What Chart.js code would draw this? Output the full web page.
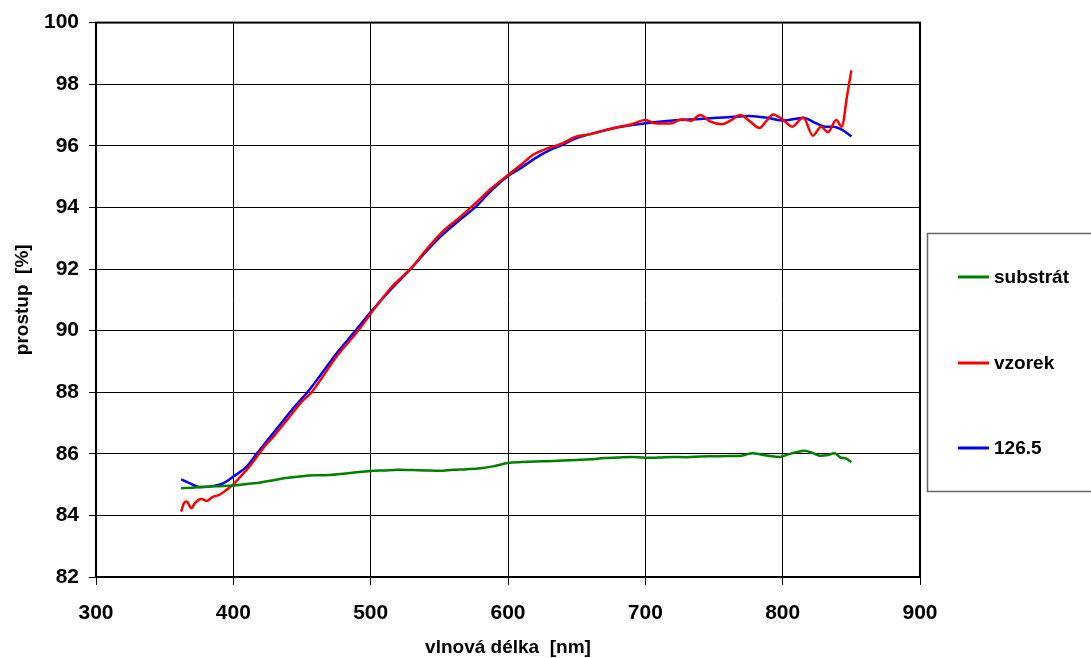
<!doctype html>
<html lang="cs">
  <head>
    <meta charset="utf-8">
    <title>Prostup</title>
    <script src="https://cdn.jsdelivr.net/npm/chart.js"></script>
    <style>
      body { margin: 0; background: #fff; }
    </style>
  </head>
  <body>
    <canvas id="prostupChart" width="1091" height="658"></canvas>

    <script>
  // substrat
  const substratNm  = [362, 370, 380, 390, 400, 410, 420, 430, 440, 450, 460, 470, 480, 490, 500, 510, 520, 530, 540, 550, 560, 570, 580, 590, 600, 610, 620, 630, 640, 650, 660, 670, 680, 690, 700, 710, 720, 730, 740, 750, 760, 770, 778, 785, 792, 798, 804, 810, 816, 822, 827, 832, 838, 842, 846, 850];
  const substratVal = [84.88, 84.9, 84.93, 84.95, 84.97, 85.02, 85.07, 85.15, 85.22, 85.27, 85.3, 85.31, 85.35, 85.4, 85.44, 85.46, 85.48, 85.47, 85.46, 85.45, 85.48, 85.5, 85.53, 85.6, 85.7, 85.73, 85.75, 85.76, 85.78, 85.8, 85.82, 85.86, 85.88, 85.9, 85.87, 85.88, 85.9, 85.89, 85.91, 85.92, 85.93, 85.94, 86.02, 85.97, 85.92, 85.9, 85.98, 86.05, 86.1, 86.02, 85.94, 85.95, 86.02, 85.88, 85.85, 85.73];

  // vzorek (measured)
  const vzorekNm  = [362, 364, 366, 369.5, 372, 377, 380.5, 385, 390, 395, 400, 406, 411, 417, 422, 430, 440, 450, 457, 465, 475, 491, 500, 515, 530, 540, 552, 565, 575, 588, 600, 610, 618, 626, 638, 650, 660, 670, 680, 690, 700, 707, 718, 727, 733, 740, 747, 756, 763, 769, 776, 783, 788, 793, 800, 807, 815, 822, 828, 833, 839, 843, 847, 850];
  const vzorekVal = [84.12, 84.4, 84.45, 84.23, 84.4, 84.53, 84.47, 84.6, 84.67, 84.83, 85.01, 85.3, 85.55, 85.9, 86.2, 86.6, 87.15, 87.7, 88.0, 88.5, 89.15, 90.0, 90.55, 91.4, 92.05, 92.6, 93.2, 93.68, 94.08, 94.62, 95.05, 95.4, 95.7, 95.87, 96.05, 96.3, 96.38, 96.5, 96.6, 96.7, 96.84, 96.73, 96.72, 96.86, 96.81, 97.0, 96.79, 96.7, 96.85, 97.0, 96.8, 96.58, 96.8, 97.02, 96.85, 96.62, 96.92, 96.33, 96.62, 96.44, 96.84, 96.62, 97.65, 98.45];

  // fit 126.5
  const fitNm  = [362, 368, 376, 385, 393, 400, 410, 417, 425, 435, 445, 454, 465, 475, 489, 500, 515, 529, 540, 552, 565, 576, 588, 600, 610, 620, 630, 638, 650, 667, 680, 700, 720, 740, 760, 776, 790, 800, 815, 825, 831, 837, 842, 846, 850];
  const fitVal = [85.17, 85.05, 84.92, 84.95, 85.05, 85.26, 85.6, 86.0, 86.45, 87.0, 87.55, 88.0, 88.65, 89.25, 90.0, 90.6, 91.35, 92.0, 92.55, 93.1, 93.6, 94.0, 94.55, 95.02, 95.3, 95.6, 95.85, 96.0, 96.25, 96.46, 96.6, 96.73, 96.82, 96.87, 96.93, 96.97, 96.9, 96.82, 96.9, 96.72, 96.62, 96.62, 96.55, 96.44, 96.3];

  const seriesNames  = ['substrát', 'vzorek', '126.5'];
  const seriesColors = ['#008000', '#ff0000', '#0000ff'];

  const FONT = 'Arial, "Liberation Sans", sans-serif';

  function toPoints(xs, ys) {
    const pts = [];
    for (let i = 0; i < xs.length; i++) {
      pts.push({x: xs[i], y: ys[i]});
    }
    return pts;
  }

  function makeDataset(i, xs, ys) {
    return {
      label: seriesNames[i],
      data: toPoints(xs, ys),
      borderColor: seriesColors[i],
      backgroundColor: seriesColors[i],
      borderWidth: 2.5,
      pointRadius: 0,
      cubicInterpolationMode: 'monotone',
      fill: false,
    };
  }

  // frame round the plot area (top + right sides aren't drawn by the axes)
  const plotFrame = {
    id: 'plotFrame',
    afterDraw(chart) {
      const {ctx, chartArea: a} = chart;
      ctx.save();
      ctx.strokeStyle = '#000';
      ctx.lineWidth = 2;
      ctx.strokeRect(a.left, a.top, a.right - a.left, a.bottom - a.top);
      ctx.restore();
    }
  };

  // legend box on the right side
  const boxLegend = {
    id: 'boxLegend',
    afterDraw(chart) {
      const ctx = chart.ctx;
      ctx.save();
      ctx.strokeStyle = '#666';
      ctx.lineWidth = 1.5;
      ctx.strokeRect(927.5, 233.5, 200, 258);

      const rows = [277, 363, 448];
      ctx.font = 'bold 19px ' + FONT;
      ctx.textBaseline = 'middle';
      chart.data.datasets.forEach((ds, i) => {
        ctx.strokeStyle = ds.borderColor;
        ctx.lineWidth = 3;
        ctx.beginPath();
        ctx.moveTo(958, rows[i]);
        ctx.lineTo(989, rows[i]);
        ctx.stroke();
        ctx.fillStyle = '#000';
        ctx.fillText(ds.label, 994, rows[i] + 1);
      });
      ctx.restore();
    }
  };

  const ctx = document.getElementById('prostupChart').getContext('2d');
  const chart = new Chart(ctx, {
    type: 'line',
    data: {
      datasets: [
        makeDataset(0, substratNm, substratVal),
        makeDataset(1, vzorekNm, vzorekVal),
        makeDataset(2, fitNm, fitVal),
      ]
    },
    options: {
      responsive: false,
      animation: false,
      layout: { padding: { top: 22, right: 171, left: 0, bottom: 0 } },
      plugins: {
        legend: { display: false },
        tooltip: { enabled: false },
      },
      scales: {
        x: {
          type: 'linear',
          min: 300,
          max: 900,
          afterFit: (s) => { s.height = 81; },
          ticks: {
            stepSize: 100,
            color: '#000',
            padding: 16,
            maxRotation: 0,
            font: { family: FONT, size: 21, weight: 'bold' },
          },
          grid: { color: '#000', lineWidth: 1, tickLength: 8 },
          border: { color: '#000', width: 2 },
          title: {
            display: true,
            text: 'vlnová délka  [nm]',
            color: '#000',
            padding: { bottom: 0, top: 0 },
            font: { family: FONT, size: 19, weight: 'bold', lineHeight: 1.1 },
          },
        },
        y: {
          min: 82,
          max: 100,
          afterFit: (s) => { s.width = 96; },
          ticks: {
            stepSize: 2,
            color: '#000',
            padding: 10,
            font: { family: FONT, size: 21, weight: 'bold' },
          },
          grid: { color: '#000', lineWidth: 1, tickLength: 7 },
          border: { color: '#000', width: 2 },
          title: {
            display: true,
            text: 'prostup  [%]',
            color: '#000',
            padding: { top: 11, bottom: 0 },
            font: { family: FONT, size: 19, weight: 'bold' },
          },
        },
      },
    },
    plugins: [plotFrame, boxLegend],
  });
    </script>
  </body>
</html>
